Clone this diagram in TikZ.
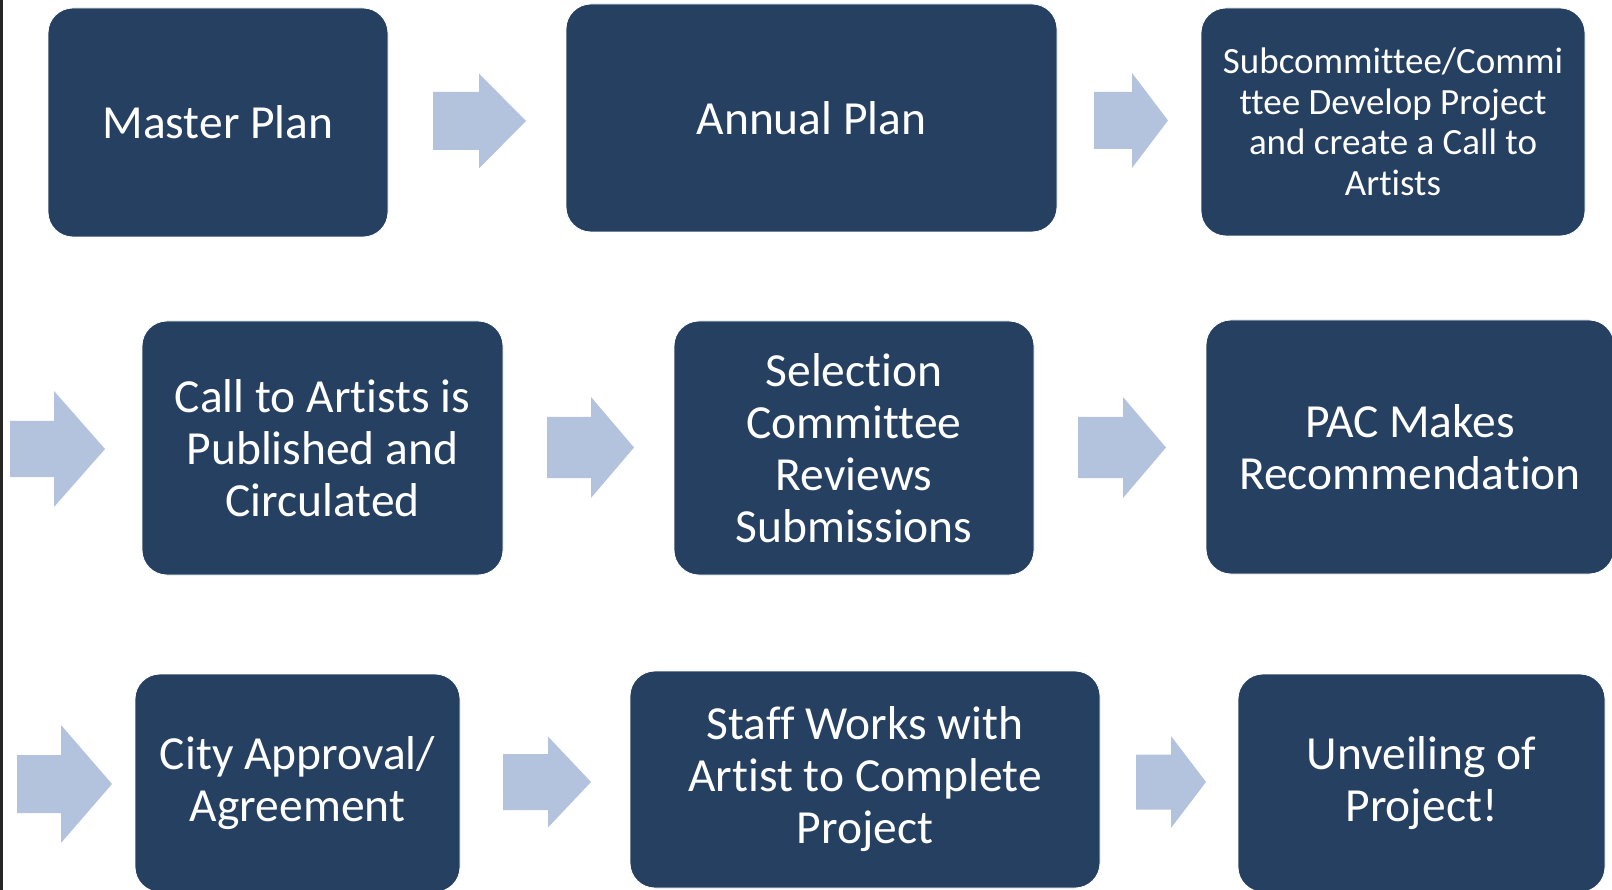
\documentclass[tikz,border=0pt]{standalone}
\usepackage{fontspec}
\setmainfont{Carlito}[Ligatures=NoCommon]
\definecolor{boxblue}{HTML}{264061}
\definecolor{arrowblue}{HTML}{B3C3DE}
\tikzset{
  stepbox/.style={fill=boxblue, draw=white, line width=0.8pt, rounded corners=25pt,
    text=white, align=center, inner sep=0pt, font=\fontsize{47.5}{52}\selectfont},
  blockarrow/.style={fill=arrowblue}
}
% body left, head start, tip, mid y, body half height, head half height
\newcommand\barrow[6]{%
  \fill[blockarrow] ({#1},{#4-#5}) -- ({#2},{#4-#5}) -- ({#2},{#4-#6}) -- ({#3},{#4})
    -- ({#2},{#4+#6}) -- ({#2},{#4+#5}) -- ({#1},{#4+#5}) -- cycle;}
\begin{document}
\begin{tikzpicture}[x=1pt,y=-1pt]
\fill[white] (0,0) rectangle (1612,890);
\useasboundingbox (0,0) rectangle (1612,890);
\fill[black!85] (0,0) rectangle (2.5,890);

% row 1
\node[stepbox, minimum width=340pt, minimum height=229pt] (master) at (218,122.5) {Master Plan};
\node[stepbox, minimum width=491pt, minimum height=228pt] (annual) at (811.5,118) {Annual Plan};
\node[stepbox, minimum width=384pt, minimum height=228pt, font=\fontsize{37}{40.5}\selectfont] (sub) at (1393,122)
  {Subcommittee/Commi\\ttee Develop Project\\and create a Call to\\Artists};
% row 2
\node[stepbox, minimum width=361pt, minimum height=254pt] (call) at (322.5,448) {Call to Artists is\\Published and\\Circulated};
\node[stepbox, minimum width=360pt, minimum height=254pt] (select) at (854,448) {Selection\\Committee\\Reviews\\Submissions};
\node[stepbox, minimum width=408pt, minimum height=254pt] (pac) at (1410,447) {PAC Makes\\Recommendation};
% row 3
\node[stepbox, minimum width=325pt, minimum height=218pt] (city) at (297.5,783) {City Approval/\\Agreement};
\node[stepbox, minimum width=470pt, minimum height=217pt] (staff) at (865,779.5) {Staff Works with\\Artist to Complete\\Project};
\node[stepbox, minimum width=367pt, minimum height=218pt] (unveil) at (1421.5,783) {Unveiling of\\Project!};

% arrows
\barrow{433}{479}{526}{121}{29}{47.5}
\barrow{1094}{1132}{1168}{120.5}{28.5}{47.5}
\barrow{10}{54}{105}{449}{28}{58}
\barrow{547}{591}{634}{447.5}{30.5}{50.5}
\barrow{1078}{1123}{1166}{447.5}{30.5}{50.5}
\barrow{17}{61}{112}{784}{29}{59}
\barrow{503}{548}{591}{782}{28}{45.5}
\barrow{1136}{1171}{1206}{782}{27.5}{46}
\end{tikzpicture}
\end{document}
